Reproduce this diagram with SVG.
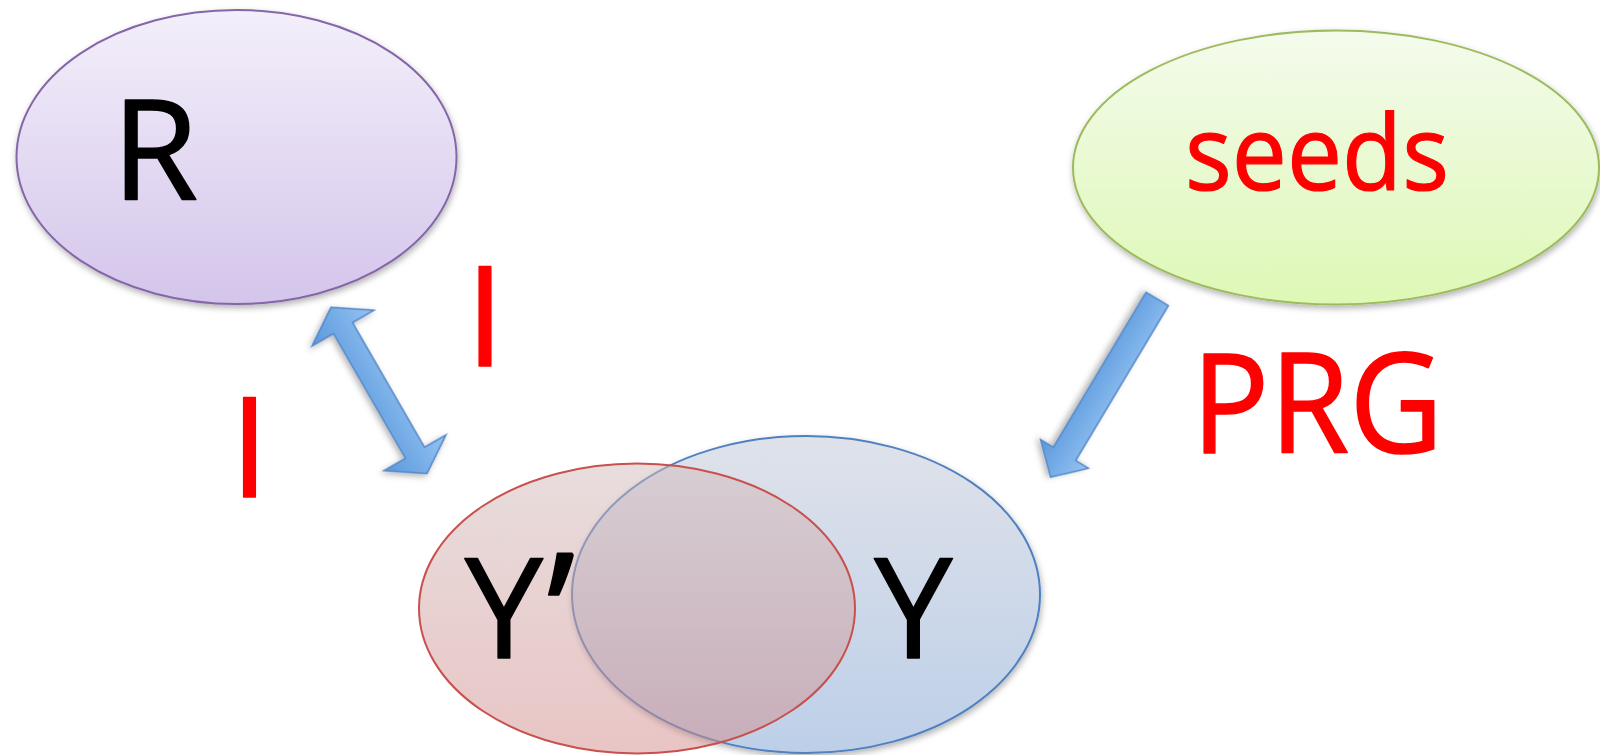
<svg xmlns="http://www.w3.org/2000/svg" width="1600" height="755" viewBox="0 0 1600 755">
  <defs>
    <linearGradient id="gR" x1="0" y1="0" x2="0" y2="1">
      <stop offset="0" stop-color="#f3effa"/>
      <stop offset="1" stop-color="#d4c5eb"/>
    </linearGradient>
    <linearGradient id="gS" x1="0" y1="0" x2="0" y2="1">
      <stop offset="0" stop-color="#f4fbec"/>
      <stop offset="1" stop-color="#def8b6"/>
    </linearGradient>
    <linearGradient id="gB" x1="0" y1="0" x2="0" y2="1">
      <stop offset="0" stop-color="#dfe2ea"/>
      <stop offset="1" stop-color="#bdcfe8"/>
    </linearGradient>
    <linearGradient id="gRed" x1="0" y1="0" x2="0" y2="1">
      <stop offset="0" stop-color="#d1bbbb"/>
      <stop offset="1" stop-color="#d38b8b"/>
    </linearGradient>
    <linearGradient id="gArrow" x1="0" y1="1" x2="0" y2="0">
      <stop offset="0" stop-color="#5a98dc"/>
      <stop offset="1" stop-color="#94c3f2"/>
    </linearGradient>
    <filter id="shadow" x="-10%" y="-10%" width="120%" height="125%">
      <feDropShadow dx="1" dy="3" stdDeviation="3" flood-color="#000" flood-opacity="0.3"/>
    </filter>
  </defs>
  <style>
    .lbl { font-family: "Open Sans", "Liberation Sans", sans-serif; text-anchor: middle; stroke-width: 1.5px; stroke-linejoin: round; }
    .big { font-size: 140px; }
    .mid { font-size: 105px; stroke-width: 1.2px; }
    .blk { fill: #000000; stroke: #000000; }
    .red { fill: #ff0000; stroke: #ff0000; }
    .arrow { fill: url(#gArrow); stroke: #5687c6; stroke-width: 1.5; stroke-linejoin: miter; }
  </style>

  <g id="node-R">
    <ellipse cx="236.5" cy="157" rx="220" ry="147" fill="url(#gR)" stroke="#8566a8" stroke-width="2" filter="url(#shadow)"/>
    <text class="lbl big blk" x="155" y="200">R</text>
  </g>

  <g id="node-seeds">
    <ellipse cx="1336" cy="167.5" rx="263" ry="137" fill="url(#gS)" stroke="#9cbb5c" stroke-width="2" filter="url(#shadow)"/>
    <text class="lbl mid red" x="1317" y="190" textLength="264" lengthAdjust="spacingAndGlyphs">seeds</text>
  </g>

  <g id="node-Y">
    <ellipse cx="806" cy="594.5" rx="234" ry="158.5" fill="url(#gB)" stroke="#4f81c0" stroke-width="2" filter="url(#shadow)"/>
    <text class="lbl big blk" x="913.5" y="658">Y</text>
  </g>

  <g id="node-Yprime">
    <ellipse cx="637" cy="608.5" rx="218" ry="145" fill="url(#gRed)" fill-opacity="0.5" stroke="#c8504d" stroke-width="2"/>
    <text class="lbl big blk"><tspan x="504" y="658">Y</tspan><tspan x="561" y="675" font-size="170">’</tspan></text>
  </g>

  <g id="connectors">
    <path class="arrow" filter="url(#shadow)" transform="translate(331,307.3) rotate(60)"
          d="M0,0 L24,35.7 L24,11 L168,11 L168,35.7 L192,0 L168,-35.7 L168,-11 L24,-11 L24,-35.7 Z"/>
    <path class="arrow" filter="url(#shadow)" transform="translate(1157.2,299) rotate(120.9)"
          d="M0,13 L180.5,13 L180.5,28 L207.7,0 L180.5,-28 L180.5,-13 L0,-13 Z"/>
  </g>

  <g id="labels">
    <text class="lbl big red" x="485" y="366">I</text>
    <text class="lbl big red" x="249.5" y="497">I</text>
    <text class="lbl big red" x="1317.5" y="453" textLength="252" lengthAdjust="spacingAndGlyphs">PRG</text>
  </g>
</svg>
